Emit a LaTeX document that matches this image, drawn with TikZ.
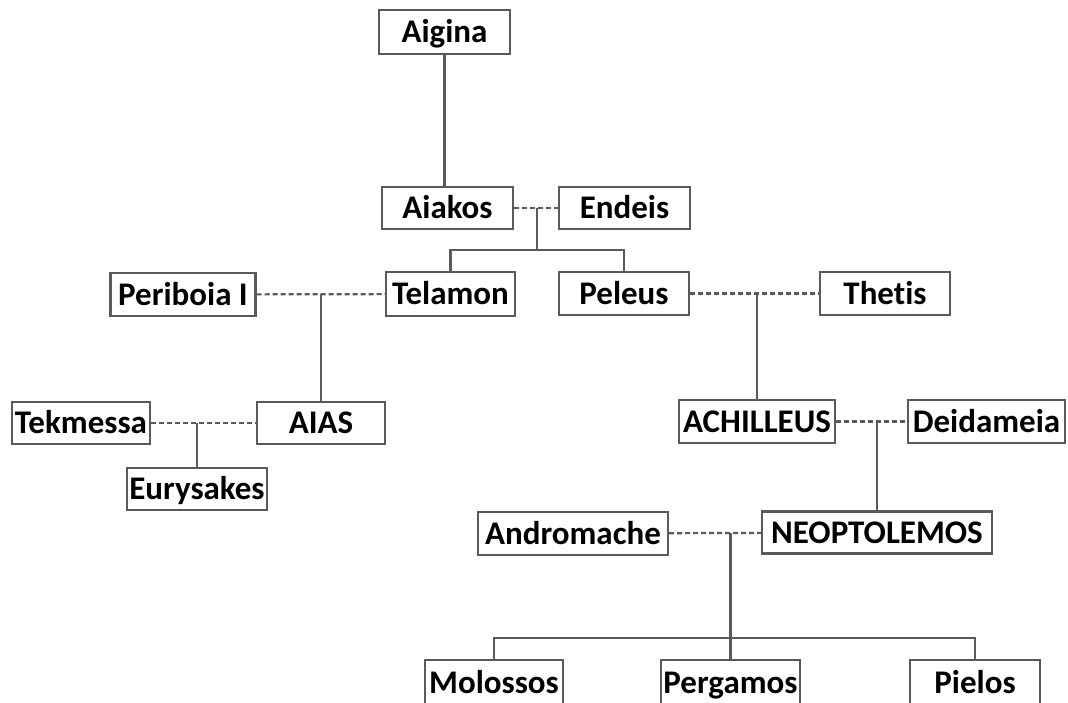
\documentclass[tikz,border=0pt]{standalone}
\usepackage{fontspec}
\setmainfont{Carlito}[Ligatures=NoCommon]
\definecolor{linegray}{HTML}{5A5A5A}
\begin{document}
\begin{tikzpicture}[x=1pt,y=-1pt,
  person/.style={draw=linegray, line width=2.4pt, fill=white, inner sep=0pt,
    text height=21pt, text depth=0pt,
    font=\bfseries\fontsize{33}{33}\selectfont, text=black},
  link/.style={draw=linegray, line width=2.2pt},
  marriage/.style={draw=linegray, line width=2.2pt, dash pattern=on 5pt off 3pt}]
\clip (0,0) rectangle (1068,702);
\fill[white] (0,0) rectangle (1068,702);
% people
\node[person, minimum width=131pt, minimum height=44pt] (aigina) at (444.5,32) {Aigina};
\node[person, minimum width=131pt, minimum height=42pt] (aiakos) at (447.5,208) {Aiakos};
\node[person, minimum width=131pt, minimum height=42pt] (endeis) at (624.5,208) {Endeis};
\node[person, minimum width=145pt, minimum height=43pt] (periboia) at (183,294.5) {Periboia I};
\node[person, minimum width=129pt, minimum height=44pt] (telamon) at (450.5,294) {Telamon};
\node[person, minimum width=130pt, minimum height=43pt] (peleus) at (624,293.5) {Peleus};
\node[person, minimum width=130pt, minimum height=43pt] (thetis) at (885,293.5) {Thetis};
\node[person, minimum width=138pt, minimum height=42pt] (tekmessa) at (81,423) {Tekmessa};
\node[person, minimum width=128pt, minimum height=42pt] (aias) at (321,423) {AIAS};
\node[person, minimum width=140pt, minimum height=42pt] (eurysakes) at (197,489) {Eurysakes};
\node[person, minimum width=156pt, minimum height=43pt] (achilleus) at (757,421.5) {ACHILLEUS};
\node[person, minimum width=157pt, minimum height=43pt] (deidameia) at (986.5,421.5) {Deidameia};
\node[person, minimum width=190pt, minimum height=43pt] (andromache) at (573,533.5) {Andromache};
\node[person, minimum width=230pt, minimum height=42pt] (neoptolemos) at (877,532.5) {NEOPTOLEMOS};
\node[person, minimum width=138pt, minimum height=46pt] (molossos) at (494,683) {Molossos};
\node[person, minimum width=139pt, minimum height=46pt] (pergamos) at (730.5,683) {Pergamos};
\node[person, minimum width=130pt, minimum height=46pt] (pielos) at (975,683) {Pielos};
% junctions
\coordinate (j1) at (537,208);
\coordinate (j1b) at (537,250);
\coordinate (j2) at (321,294);
\coordinate (j3) at (197,423);
\coordinate (j4) at (757,294);
\coordinate (j5) at (877,421.5);
\coordinate (j6) at (730.5,533);
\coordinate (j6b) at (730.5,638);
% connectors
\draw[link] (aigina) -- (aigina |- aiakos.north);
\draw[marriage] (aiakos) -- (endeis);
\draw[link] (j1) -- (j1b);
\draw[link] (j1b) -| (telamon.north);
\draw[link] (j1b) -| (peleus.north);
\draw[marriage] (periboia) -- (telamon);
\draw[link] (j2) -- (aias.north);
\draw[marriage] (tekmessa) -- (aias);
\draw[link] (j3) -- (eurysakes.north);
\draw[marriage] (peleus) -- (thetis);
\draw[link] (j4) -- (achilleus.north);
\draw[marriage] (achilleus) -- (deidameia);
\draw[link] (j5) -- (neoptolemos.north);
\draw[marriage] (andromache) -- (neoptolemos);
\draw[link] (j6) -- (pergamos.north);
\draw[link] (j6b) -| (molossos.north);
\draw[link] (j6b) -| (pielos.north);
\end{tikzpicture}
\end{document}
